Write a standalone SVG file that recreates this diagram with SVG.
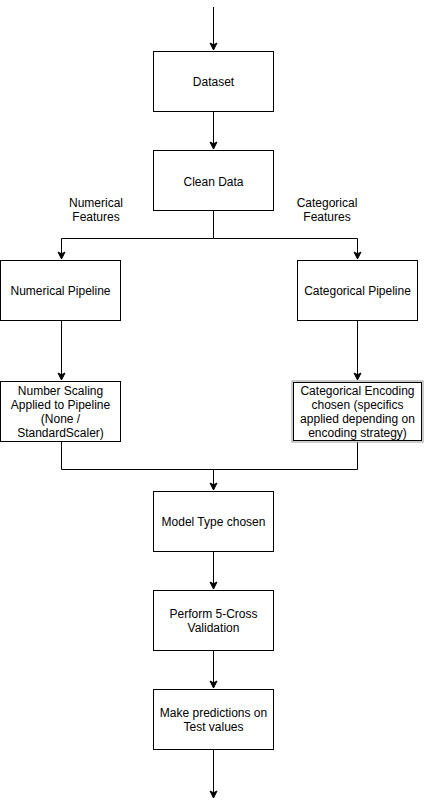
<svg xmlns="http://www.w3.org/2000/svg" width="424" height="808" viewBox="0 0 424 808">
<style>
.box{fill:#fff;stroke:#000;stroke-width:1}
.t{font-family:"Liberation Sans",Arial,sans-serif;font-size:12px;fill:#000;text-anchor:middle}
.c{fill:none;stroke:#000;stroke-width:1}
</style>
<defs>
<marker id="ah" markerUnits="userSpaceOnUse" markerWidth="10" markerHeight="10" viewBox="0 0 10 10" refX="8" refY="5" orient="auto">
<path d="M1,1.5 L8,5 L1,8.5 L2.8,5 Z" fill="#000" stroke="#000" stroke-width="1"/>
</marker>
</defs>
<rect width="424" height="808" fill="#fff"/>
<g id="connectors">
<path class="c" d="M213.5,7 V50" marker-end="url(#ah)"/>
<path class="c" d="M213.5,111.5 V149" marker-end="url(#ah)"/>
<path class="c" d="M213.5,210.5 V238.5 H61.5 V259" marker-end="url(#ah)"/>
<path class="c" d="M213.5,238.5 H357.5 V259" marker-end="url(#ah)"/>
<path class="c" d="M61.5,320.5 V380" marker-end="url(#ah)"/>
<path class="c" d="M357.5,320.5 V380" marker-end="url(#ah)"/>
<path class="c" d="M61.5,441.5 V469.5 H357.5 V441.5"/>
<path class="c" d="M213.5,469.5 V490" marker-end="url(#ah)"/>
<path class="c" d="M213.5,551.5 V589" marker-end="url(#ah)"/>
<path class="c" d="M213.5,650.5 V688" marker-end="url(#ah)"/>
<path class="c" d="M213.5,749.5 V798" marker-end="url(#ah)"/>
</g>
<g id="dataset">
<rect class="box" x="153.5" y="51.5" width="120" height="60"/>
<text class="t" x="213.5" y="85.5">Dataset</text>
</g>
<g id="clean-data">
<rect class="box" x="153.5" y="150.5" width="120" height="60"/>
<text class="t" x="213.5" y="185.5">Clean Data</text>
</g>
<g id="label-numerical">
<text class="t" x="96" y="207">Numerical</text>
<text class="t" x="96" y="221">Features</text>
</g>
<g id="label-categorical">
<text class="t" x="327" y="207">Categorical</text>
<text class="t" x="327" y="221">Features</text>
</g>
<g id="numerical-pipeline">
<rect class="box" x="0.5" y="260.5" width="120" height="60"/>
<text class="t" x="60.5" y="295">Numerical Pipeline</text>
</g>
<g id="categorical-pipeline">
<rect class="box" x="297.5" y="260.5" width="120" height="60"/>
<text class="t" x="357.5" y="295">Categorical Pipeline</text>
</g>
<g id="number-scaling">
<rect class="box" x="0.5" y="381.5" width="120" height="60"/>
<text class="t" x="60.5" y="394.5">Number Scaling</text>
<text class="t" x="60.5" y="408.5">Applied to Pipeline</text>
<text class="t" x="60.5" y="422.5">(None /</text>
<text class="t" x="60.5" y="436.5">StandardScaler)</text>
</g>
<g id="categorical-encoding">
<rect x="292" y="381" width="131" height="61" fill="#fff" stroke="#999" stroke-width="1"/>
<rect class="box" x="293.5" y="382.5" width="128" height="58"/>
<text class="t" x="357.5" y="394.5">Categorical Encoding</text>
<text class="t" x="357.5" y="408.5">chosen (specifics</text>
<text class="t" x="357.5" y="422.5">applied depending on</text>
<text class="t" x="357.5" y="436.5">encoding strategy)</text>
</g>
<g id="model-type">
<rect class="box" x="153.5" y="491.5" width="120" height="60"/>
<text class="t" x="213.5" y="526">Model Type chosen</text>
</g>
<g id="cross-validation">
<rect class="box" x="153.5" y="590.5" width="120" height="60"/>
<text class="t" x="213.5" y="618">Perform 5-Cross</text>
<text class="t" x="213.5" y="632">Validation</text>
</g>
<g id="predictions">
<rect class="box" x="153.5" y="689.5" width="120" height="60"/>
<text class="t" x="213.5" y="716.5">Make predictions on</text>
<text class="t" x="213.5" y="731">Test values</text>
</g>
</svg>
